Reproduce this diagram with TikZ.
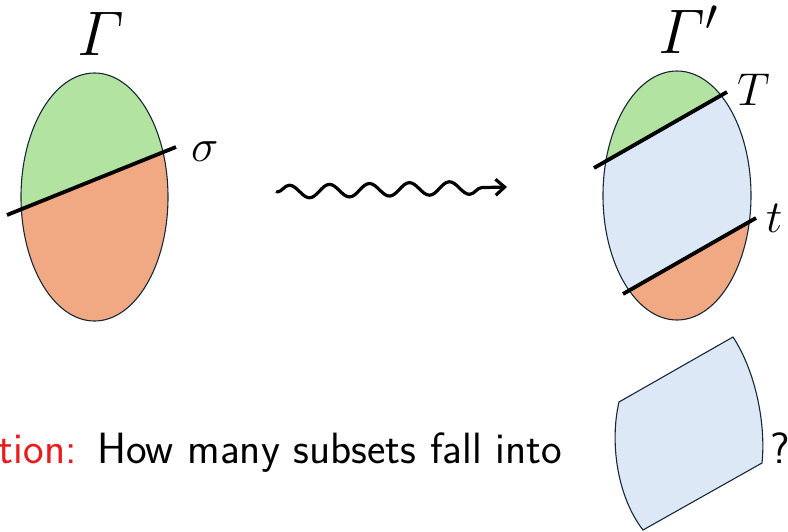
\documentclass[tikz,border=0pt]{standalone}
\usepackage{fix-cm}
\usepackage{amsmath}
\usetikzlibrary{decorations.pathmorphing,arrows.meta}
\definecolor{cgreen}{RGB}{179,227,161}
\definecolor{corange}{RGB}{241,169,132}
\definecolor{cblue}{RGB}{220,232,245}
\definecolor{cedge}{RGB}{22,40,55}
\definecolor{calert}{RGB}{232,28,28}
\tikzset{
  region/.style={draw=cedge, line width=1.1pt},
  cutline/.style={line width=3.8pt, black},
  biglabel/.style={inner sep=0pt, font=\fontsize{63}{70}\selectfont},
  cutlabel/.style={inner sep=0pt, font=\fontsize{46}{52}\selectfont},
  textlabel/.style={inner sep=0pt, font=\sffamily\fontsize{43.8}{50}\selectfont}
}
\begin{document}
\begin{tikzpicture}[x=1pt,y=-1pt]
\useasboundingbox (0,0) rectangle (788,531);
\clip (0,0) rectangle (788,531);
% ---------- left set Gamma ----------
\begin{scope}
  \clip (94.5,197) ellipse [x radius=73.5, y radius=124];
  \fill[corange] (0,0) rectangle (300,400);
  \fill[cgreen] (-100,258.1) -- (300,97.1) -- (300,-100) -- (-100,-100) -- cycle;
\end{scope}
\draw[region] (94.5,197) ellipse [x radius=73.5, y radius=124];
\coordinate (s1) at (7,215);
\coordinate (s2) at (176,147);
\draw[cutline] (s1) -- (s2);
\node[cutlabel, anchor=base west] (sigma) at (191,161) {$\sigma$};
\node[biglabel, anchor=base] (G) at (101,55) {$\varGamma$};
% ---------- right set Gamma' ----------
\begin{scope}
  \clip (677,195.5) ellipse [x radius=74, y radius=124.5];
  \fill[cblue] (500,0) rectangle (850,400);
  \fill[cgreen] (500,221.7) -- (850,21.7) -- (850,-100) -- (500,-100) -- cycle;
  \fill[corange] (500,364.3) -- (850,164.3) -- (850,600) -- (500,600) -- cycle;
\end{scope}
\draw[region] (677,195.5) ellipse [x radius=74, y radius=124.5];
\coordinate (T1) at (594,168);
\coordinate (T2) at (727,92);
\coordinate (t1) at (623,294);
\coordinate (t2) at (756,218);
\draw[cutline] (T1) -- (T2);
\draw[cutline] (t1) -- (t2);
\node[cutlabel, anchor=base west] (Tlab) at (737,105) {$T$};
\node[cutlabel, anchor=base west] (tlab) at (766,232) {$t$};
\node[biglabel, anchor=base] (Gp) at (688,53) {$\varGamma'$};
% ---------- wavy arrow ----------
\coordinate (w1) at (277,192);
\coordinate (w2) at (507,187);
\draw[line width=3.2pt, line cap=round, decorate,
      decoration={snake, segment length=40pt, amplitude=6.5pt, post length=10pt},
      -{Straight Barb[length=9pt, width=16pt]}] (w1) -- (w2);
% ---------- question ----------
\node[textlabel, anchor=base east, text=calert] (q) at (77,463) {Question:};
\node[textlabel, anchor=base west] (txt) at (97,463) {How many subsets fall into};
\coordinate (bA) at (619,402);
\coordinate (bB) at (733,337);
\coordinate (bC) at (762,463);
\coordinate (bD) at (643,530);
\draw[region, fill=cblue] (bA) -- (bB) .. controls (756,372) and (766,425) .. (bC)
  -- (bD) .. controls (616,495) and (610,440) .. (bA) -- cycle;
\node[textlabel, anchor=base west] (qm) at (770,463) {?};
\end{tikzpicture}
\end{document}
